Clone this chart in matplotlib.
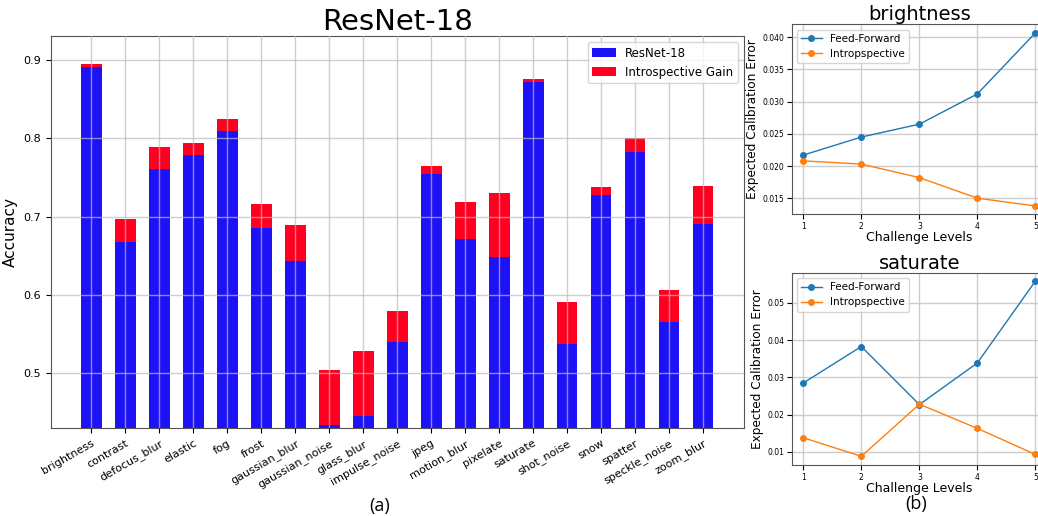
import numpy as np
import matplotlib
matplotlib.use("Agg")
import matplotlib.pyplot as plt

# (a) accuracy per challenge type
categories = ['brightness', 'contrast', 'defocus_blur', 'elastic', 'fog', 'frost',
              'gaussian_blur', 'gaussian_noise', 'glass_blur', 'impulse_noise', 'jpeg',
              'motion_blur', 'pixelate', 'saturate', 'shot_noise', 'snow', 'spatter',
              'speckle_noise', 'zoom_blur']
resnet = [0.891, 0.668, 0.761, 0.778, 0.809, 0.685, 0.643, 0.434, 0.446, 0.540,
          0.754, 0.671, 0.648, 0.872, 0.537, 0.727, 0.782, 0.565, 0.690]
total = [0.894, 0.697, 0.788, 0.794, 0.824, 0.716, 0.689, 0.504, 0.528, 0.580,
         0.764, 0.719, 0.730, 0.875, 0.591, 0.737, 0.800, 0.606, 0.739]
gain = [t - r for t, r in zip(total, resnet)]

# (b) expected calibration error per challenge level
levels = [1, 2, 3, 4, 5]
bright_ff = [0.0217, 0.0245, 0.0265, 0.0312, 0.0407]
bright_in = [0.0208, 0.0203, 0.0182, 0.0150, 0.0138]
sat_ff = [0.0285, 0.0383, 0.0227, 0.0339, 0.0559]
sat_in = [0.0138, 0.0088, 0.0228, 0.0163, 0.0093]

fig = plt.figure(figsize=(10.38, 5.16), dpi=100)

ax = fig.add_axes([0.0488, 0.170, 0.668, 0.760])
x = np.arange(len(categories))
ax.bar(x, resnet, width=0.6, color='#1c12f5', label='ResNet-18', zorder=1)
ax.bar(x, gain, width=0.6, bottom=resnet, color='#ff0020', label='Introspective Gain', zorder=1)
ax.set_xticks(x)
ax.set_xticklabels(categories, rotation=30, ha='right', rotation_mode='anchor', fontsize=8)
ax.set_xlim(-1.2, 19.2)
ax.set_ylim(0.43, 0.93)
ax.set_yticks([0.5, 0.6, 0.7, 0.8, 0.9])
ax.tick_params(axis='y', labelsize=8)
ax.grid(True, color='#bbbbbb', alpha=0.7, linewidth=1, zorder=2)
ax.set_axisbelow(False)
ax.set_ylabel("Accuracy", fontsize=11)
ax.set_title("ResNet-18", fontsize=21, pad=4)
ax.legend(loc='upper right', fontsize=8.5)
for s in ax.spines.values():
    s.set_color('#555555')

def ece_plot(rect, ff, intro, title, ylim, yticks):
    a = fig.add_axes(rect)
    a.plot(levels, ff, '-o', color='#1f77b4', markersize=4, linewidth=1, label='Feed-Forward')
    a.plot(levels, intro, '-o', color='#ff7f0e', markersize=4, linewidth=1, label='Intropspective')
    a.set_xlim(0.8, 5.2)
    a.set_ylim(*ylim)
    a.set_xticks(levels)
    a.set_yticks(yticks)
    a.tick_params(labelsize=5.5, pad=2)
    a.grid(True, color='#cccccc', linewidth=1)
    a.set_title(title, fontsize=14, pad=3)
    a.set_xlabel("Challenge Levels", fontsize=9, labelpad=0)
    a.set_ylabel("Expected Calibration Error", fontsize=8.7, labelpad=2)
    a.legend(loc='upper left', fontsize=7.5)
    for s in a.spines.values():
        s.set_color('#555555')
    return a

ece_plot([0.7627, 0.5847, 0.246, 0.368], bright_ff, bright_in, "brightness",
         (0.0125, 0.0420), [0.015, 0.020, 0.025, 0.030, 0.035, 0.040])
ece_plot([0.7627, 0.0983, 0.246, 0.373], sat_ff, sat_in, "saturate",
         (0.0064, 0.0581), [0.01, 0.02, 0.03, 0.04, 0.05])

fig.text(380 / 1038, 1 - 506 / 516, "(a)", fontsize=13, family='Open Sans', ha='center', va='center')
fig.text(916 / 1038, 1 - 504 / 516, "(b)", fontsize=13, family='Open Sans', ha='center', va='center')

fig.savefig("out.png", dpi=100)
